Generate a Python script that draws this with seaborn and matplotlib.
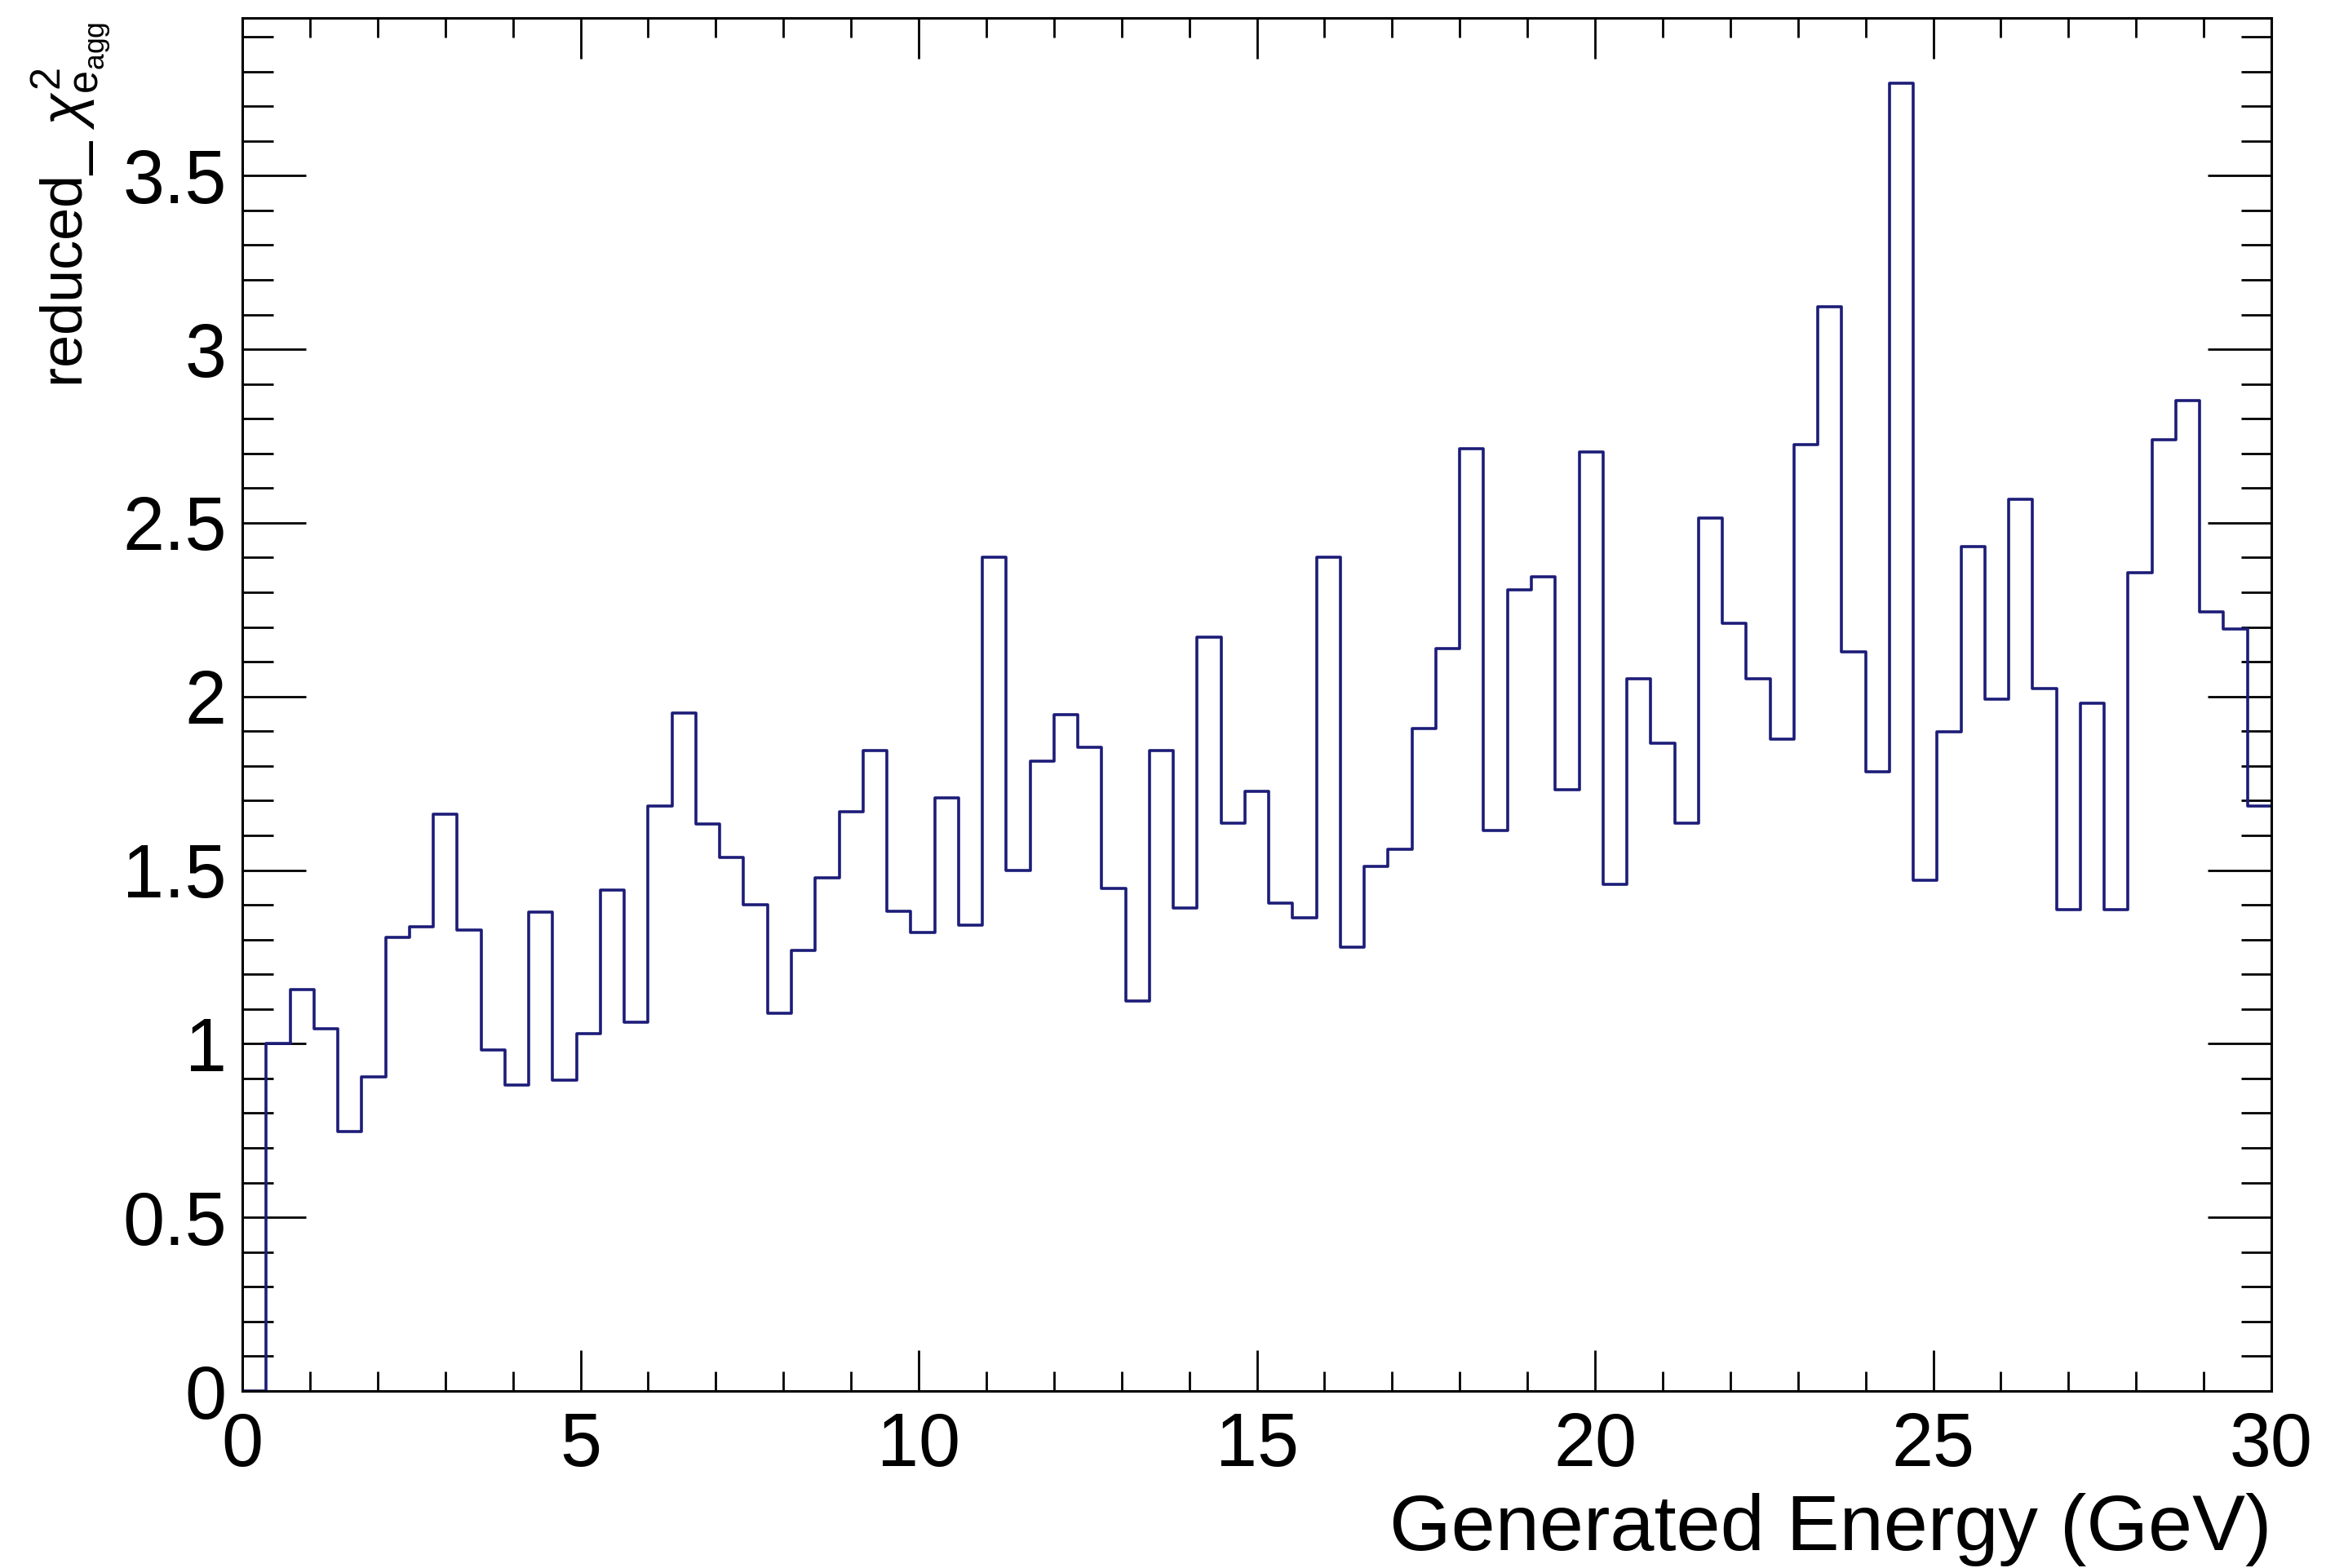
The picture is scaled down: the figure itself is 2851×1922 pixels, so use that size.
import numpy as np
import pandas as pd
import matplotlib
matplotlib.use('Agg')
import matplotlib.pyplot as plt
from matplotlib.ticker import MultipleLocator, FuncFormatter
import seaborn as sns

# histogram: 85 equal bins between 0 and 30 GeV, contents
n_bins = 85
e_min, e_max = 0, 30
chi2_vals = [0.000, 1.000, 1.157, 1.042, 0.748, 0.905, 1.307, 1.336, 1.662, 1.327,
             0.981, 0.882, 1.378, 0.894, 1.029, 1.442, 1.063, 1.684, 1.953, 1.633,
             1.537, 1.400, 1.087, 1.269, 1.478, 1.667, 1.845, 1.382, 1.321, 1.707,
             1.342, 2.400, 1.499, 1.814, 1.948, 1.853, 1.447, 1.122, 1.845, 1.392,
             2.170, 1.635, 1.728, 1.405, 1.363, 2.400, 1.279, 1.510, 1.561, 1.908,
             2.139, 2.714, 1.615, 2.307, 2.345, 1.732, 2.704, 1.459, 2.052, 1.866,
             1.636, 2.513, 2.211, 2.052, 1.878, 2.726, 3.123, 2.128, 1.783, 3.766,
             1.470, 1.898, 2.431, 1.992, 2.569, 2.022, 1.386, 1.981, 1.386, 2.357,
             2.739, 2.852, 2.244, 2.194, 1.684]

x_title = 'Generated Energy (GeV)'
y_title = r'reduced_ $\chi^{2}_{\mathregular{e_{agg}}}$'

edges = np.linspace(e_min, e_max, n_bins + 1)
centers = (edges[:-1] + edges[1:]) / 2
df = pd.DataFrame({'energy': centers, 'chi2': chi2_vals})

plt.rcParams['font.family'] = ['Liberation Sans', 'DejaVu Sans']
plt.rcParams['mathtext.fontset'] = 'custom'
plt.rcParams['mathtext.rm'] = 'Liberation Sans'
plt.rcParams['mathtext.it'] = 'Liberation Sans:italic'

fig = plt.figure(figsize=(28.51, 19.22), dpi=100)
ax = fig.add_axes([0.1042, 0.1129, 0.8723, 0.8757])

sns.histplot(data=df, x='energy', weights='chi2', bins=list(edges), element='step',
             fill=False, color='#1c1c78', linewidth=2.6, ax=ax)

ax.set_xlim(e_min, e_max)
ax.set_ylim(0, 1.05 * max(chi2_vals))

ax.xaxis.set_major_locator(MultipleLocator(5))
ax.xaxis.set_minor_locator(MultipleLocator(1))
ax.yaxis.set_major_locator(MultipleLocator(0.5))
ax.yaxis.set_minor_locator(MultipleLocator(0.1))
fmt = FuncFormatter(lambda v, p: '%g' % round(v, 3))
ax.xaxis.set_major_formatter(fmt)
ax.yaxis.set_major_formatter(fmt)

ax.tick_params(axis='both', which='both', direction='in', top=True, right=True,
               width=2, labelsize=66)
ax.tick_params(axis='x', which='major', length=36, pad=18)
ax.tick_params(axis='x', which='minor', length=17)
ax.tick_params(axis='y', which='major', length=56, pad=14)
ax.tick_params(axis='y', which='minor', length=27)
for s in ax.spines.values():
    s.set_linewidth(2.2)

ax.set_xlabel(x_title, fontsize=70, loc='right')
ax.xaxis.set_label_coords(1.0, -0.074)
ax.set_ylabel(y_title, fontsize=52, loc='top')
ax.yaxis.set_label_coords(-0.064, 0.997)

fig.savefig('out.png', dpi=100)
